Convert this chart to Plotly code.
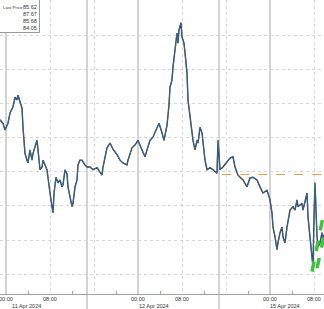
import plotly.graph_objects as go

# trading-hour offset from 11 Apr 2024 00:00 (weekend removed: 15 Apr 00:00 = 48)
hours = [-1.09,-0.55,-0.18,0.36,0.73,1.27,1.64,2.0,2.18,2.55,2.91,3.09,3.45,3.82,4.0,4.36,4.73,4.91,5.27,5.64,5.82,6.18,6.55,6.73,7.45,7.64,8.0,8.36,8.55,8.73,9.09,9.45,9.82,10.18,10.36,10.73,11.09,11.27,11.64,12.0,12.18,12.55,12.91,13.09,13.45,13.82,14.36,14.73,15.27,15.82,16.55,17.09,17.45,17.64,18.0,18.36,18.91,19.45,20.18,20.73,21.27,22.0,22.18,22.91,23.45,24.0,24.73,25.27,25.64,26.18,26.73,27.45,27.82,28.36,28.73,29.27,29.64,29.82,30.18,30.36,30.73,31.09,31.27,31.45,31.82,32.0,32.18,32.36,32.55,32.91,33.09,33.45,34.0,34.36,34.73,34.91,35.27,35.64,35.82,36.18,36.55,37.09,37.64,38.36,38.55,38.91,39.45,40.18,40.73,41.27,41.64,42.18,42.55,43.09,43.82,44.36,44.91,45.64,46.18,46.73,47.45,48.0,48.36,48.55,48.91,49.27,49.45,49.82,50.18,50.36,50.73,51.09,51.64,52.18,52.55,52.91,53.09,53.82,54.0,54.73,54.91,55.27,55.64,55.82,56.0,56.18,56.55,56.73,57.09,57.45,57.64,57.82]
prices = [86.26,86.21,86.11,86.21,86.36,86.45,86.59,86.55,86.62,86.51,86.43,86.15,85.77,85.67,85.63,85.82,85.67,85.77,85.86,85.96,85.82,85.53,85.57,85.67,85.53,85.38,85.19,84.99,84.90,85.19,85.42,85.34,85.38,85.28,85.31,85.53,85.47,85.28,85.13,84.99,85.04,85.28,85.38,85.60,85.67,85.67,85.60,85.57,85.57,85.53,85.56,85.50,85.45,85.57,85.70,85.85,85.92,85.83,85.75,85.67,85.63,85.60,85.67,85.85,85.89,85.96,85.82,85.72,85.82,85.96,86.01,86.15,86.21,86.07,85.96,86.18,86.48,86.74,86.84,87.03,87.28,87.53,87.38,87.57,87.68,87.47,87.43,87.38,87.24,86.94,86.55,86.29,85.96,85.82,85.96,85.92,86.15,86.07,85.96,85.67,85.53,85.56,85.53,85.48,85.96,85.53,85.57,85.64,85.70,85.72,85.57,85.45,85.42,85.38,85.28,85.41,85.42,85.38,85.28,85.19,85.23,85.09,84.90,84.69,84.55,84.36,84.46,84.61,84.69,84.55,84.46,84.69,84.94,84.99,84.94,85.09,84.99,85.04,84.94,85.19,84.84,84.55,84.25,84.10,84.84,85.34,84.55,84.40,84.46,84.61,84.50,84.58]

ref_level = 85.46
ref_start = 39.3
green_a_x = [55.64, 57.82]
green_a_y = [84.04, 84.91]
green_b_x = [56.55, 57.82]
green_b_y = [84.09, 84.56]

grid_vals = [8, 16, 32, 40, 56]
label_vals = [0, 8, 24, 32, 48, 56]
label_text = ["00:00", "08:00", "00:00", "08:00", "00:00", "08:00"]
minor_vals = [4, 12, 20, 28, 36, 44, 52]
day_starts = [0, 24, 48]
session_breaks = [14.73, 38.73]
day_labels = ["11 Apr 2024", "12 Apr 2024", "15 Apr 2024"]
day_label_x = [0.7, 23.8, 47.6]
legend_label = "Last Price"
legend_values = ["85.62", "87.67", "85.68", "84.05"]

W, H, B = 324, 309, 15
PH = H - B
X0, X1 = -1.091, 57.818
Y0, Y1 = 83.713, 88.012
FONT = dict(family="Liberation Sans", size=5.5, color="#333333")

fig = go.Figure()
fig.add_trace(go.Scatter(x=hours, y=prices, mode="lines",
                         line=dict(color="#1e2c3e", width=1.4), hoverinfo="skip"))
fig.add_trace(go.Scatter(x=hours, y=prices, mode="lines",
                         line=dict(color="#4f8cc8", width=0.6), hoverinfo="skip"))
fig.add_trace(go.Scatter(x=[ref_start, X1], y=[ref_level, ref_level], mode="lines",
                         line=dict(color="#f0a030", width=1, dash="dash"), hoverinfo="skip"))
for gx, gy in [(green_a_x, green_a_y), (green_b_x, green_b_y)]:
    fig.add_trace(go.Scatter(x=gx, y=gy, mode="lines",
                             line=dict(color="#3cc43c", width=3.5, dash="dash"), hoverinfo="skip"))

shapes = []
for d in day_starts:
    shapes.append(dict(type="line", xref="x", yref="paper", x0=d, x1=d, y0=0, y1=1,
                       line=dict(color="#a8a8a8", width=1), layer="below"))
for s in session_breaks:
    shapes.append(dict(type="line", xref="x", yref="paper", x0=s, x1=s, y0=-B / PH, y1=1,
                       line=dict(color="#a8a8a8", width=1), layer="below"))
# legend box
shapes.append(dict(type="rect", xref="paper", yref="paper",
                   x0=-10 / W, x1=39.5 / W, y0=1 - 32.5 / PH, y1=1 + 5 / PH,
                   line=dict(color="#9a9a9a", width=1), fillcolor="white", layer="above"))

annotations = []
for lab, x in zip(label_text, label_vals):
    annotations.append(dict(x=x, y=-4.5 / PH, xref="x", yref="paper", text=lab, showarrow=False,
                            xanchor="center", yanchor="middle", font=FONT))
for lab, x in zip(day_labels, day_label_x):
    annotations.append(dict(x=x, y=-12 / PH, xref="x", yref="paper", text=lab, showarrow=False,
                            xanchor="left", yanchor="middle", font=FONT))
for i, val in enumerate(legend_values):
    yy = 1 - (7 + 7 * i) / PH
    annotations.append(dict(x=38.5 / W, y=yy, xref="paper", yref="paper", text=val, showarrow=False,
                            xanchor="right", yanchor="middle", font=FONT))
annotations.append(dict(x=0.5 / W, y=1 - 7 / PH, xref="paper", yref="paper", text=legend_label,
                        showarrow=False, xanchor="left", yanchor="middle",
                        font=dict(family="Liberation Sans", size=4.4, color="#333333")))

fig.update_layout(
    width=W, height=H, margin=dict(l=0, r=0, t=0, b=B),
    paper_bgcolor="white", plot_bgcolor="white", showlegend=False,
    shapes=shapes, annotations=annotations,
    xaxis=dict(range=[X0, X1], tickvals=grid_vals, showticklabels=False,
               showgrid=True, gridcolor="#d8d8d8", griddash="dot", gridwidth=1,
               showline=True, linecolor="#a0a0a0", linewidth=1, ticks="", zeroline=False,
               minor=dict(tickvals=minor_vals, ticks="inside", ticklen=3,
                          tickcolor="#a0a0a0", showgrid=False)),
    yaxis=dict(range=[Y0, Y1], dtick=0.5, tick0=84, showgrid=True, gridcolor="#d8d8d8",
               griddash="dot", gridwidth=1, showticklabels=False, zeroline=False, ticks=""),
)
fig.write_html("out.html")
